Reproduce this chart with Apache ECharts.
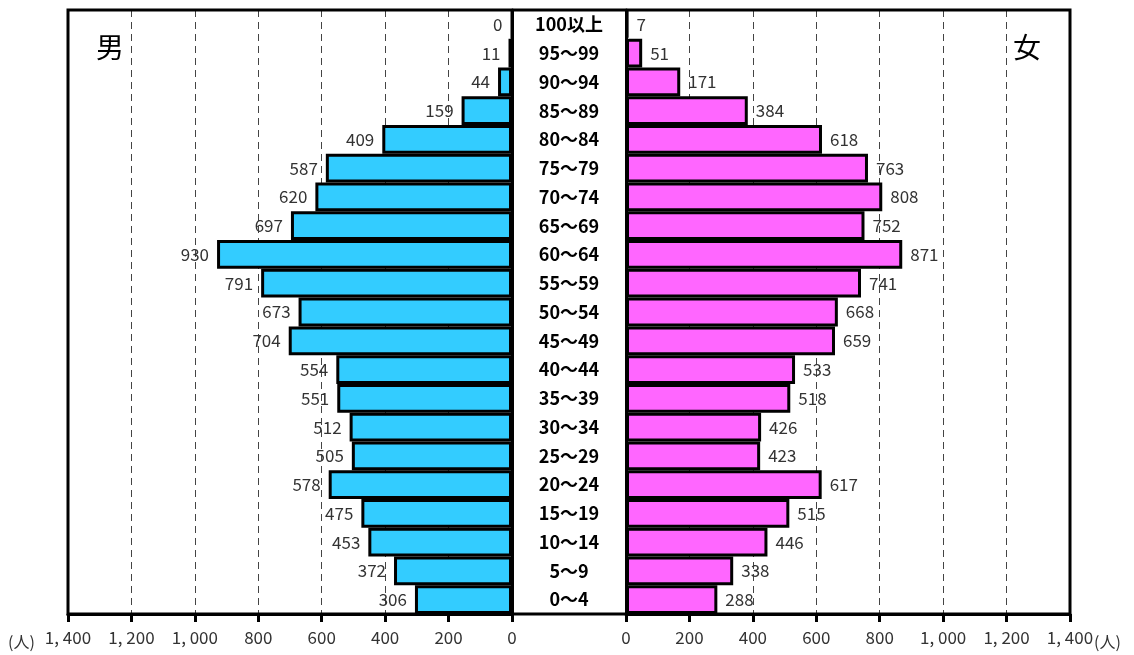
<!DOCTYPE html>
<html><head><meta charset="utf-8">
<script src="https://cdn.jsdelivr.net/npm/echarts@6/dist/echarts.min.js"></script>
<style>html,body{margin:0;padding:0;background:#fff}#c{width:1134px;height:655px}</style>
</head><body><div id="c"></div>
<script>
const categories = ["0～4","5～9","10～14","15～19","20～24","25～29","30～34","35～39","40～44","45～49","50～54","55～59","60～64","65～69","70～74","75～79","80～84","85～89","90～94","95～99","100以上"];
const maleValues = [306,372,453,475,578,505,512,551,554,704,673,791,930,697,620,587,409,159,44,11,0];
const femaleValues = [288,338,446,515,617,423,426,518,533,659,668,741,871,752,808,763,618,384,171,51,7];
const tickLabels = {0:"0",200:"200",400:"400",600:"600",800:"800",1000:"1, 000",1200:"1, 200",1400:"1, 400"};
const unitLabel = "(人)";
const maleTitle = "男", femaleTitle = "女";

const FONT = "'Noto Sans CJK JP', sans-serif";
const chart = echarts.init(document.getElementById('c'));
const xAxisCommon = {
  type: 'value', min: 0, max: 1400, interval: 200,
  axisLine: {show: true, lineStyle: {color: '#000', width: 3}},
  axisTick: {show: true, length: 8, lineStyle: {color: '#000', width: 3}},
  axisLabel: {formatter: v => tickLabels[v], fontSize: 17, color: '#333', margin: 15, fontFamily: FONT},
  splitLine: {show: true, lineStyle: {color: '#444', width: 1, type: [7, 5]}}
};
chart.setOption({
  animation: false,
  grid: [
    {left: 68, width: 444, top: 10, bottom: 41},
    {left: 626, width: 444, top: 10, bottom: 41}
  ],
  xAxis: [
    Object.assign({gridIndex: 0, inverse: true}, xAxisCommon),
    Object.assign({gridIndex: 1}, xAxisCommon)
  ],
  yAxis: [
    {type: 'category', gridIndex: 0, data: categories, position: 'right',
     axisLine: {show: true, lineStyle: {color: '#000', width: 3}}, axisTick: {show: false},
     axisLabel: {align: 'center', margin: 57, fontSize: 18, fontWeight: 'bold', color: '#000', fontFamily: FONT}},
    {type: 'category', gridIndex: 1, data: categories, position: 'left',
     axisLine: {show: true, lineStyle: {color: '#000', width: 3}}, axisTick: {show: false},
     axisLabel: {show: false}}
  ],
  series: [
    {type: 'bar', xAxisIndex: 0, yAxisIndex: 0, data: maleValues, barCategoryGap: 0,
     itemStyle: {color: '#33CCFF', borderColor: '#000', borderWidth: 3},
     label: {show: true, position: 'left', distance: 8, fontSize: 17, color: '#333', fontFamily: FONT}},
    {type: 'bar', xAxisIndex: 1, yAxisIndex: 1, data: femaleValues, barCategoryGap: 0,
     itemStyle: {color: '#FF66FF', borderColor: '#000', borderWidth: 3},
     label: {show: true, position: 'right', distance: 8, fontSize: 17, color: '#333', fontFamily: FONT}}
  ],
  graphic: [
    {type: 'rect', z: 100, shape: {x: 68, y: 10, width: 1002, height: 604}, style: {fill: 'none', stroke: '#000', lineWidth: 3}},
    {type: 'text', left: 96, top: 33, style: {text: maleTitle, fill: '#000', font: '28px ' + FONT}},
    {type: 'text', left: 1013, top: 33, style: {text: femaleTitle, fill: '#000', font: '28px ' + FONT}},
    {type: 'text', left: 8, top: 634, style: {text: unitLabel, fill: '#333', font: '16px ' + FONT}},
    {type: 'text', left: 1094, top: 634, style: {text: unitLabel, fill: '#333', font: '16px ' + FONT}}
  ]
});
</script></body></html>
